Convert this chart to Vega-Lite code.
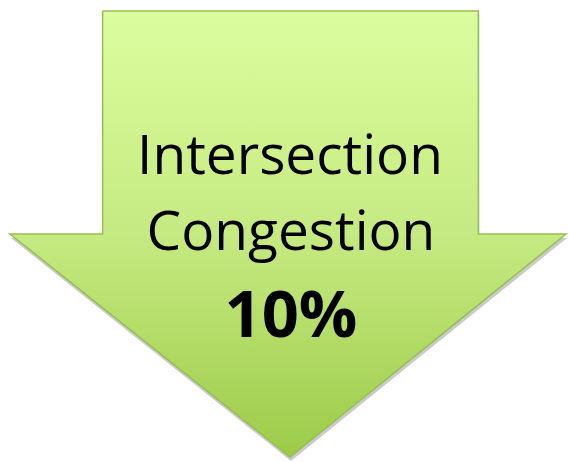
{
  "$schema": "https://vega.github.io/schema/vega-lite/v6.json",
  "width": 569,
  "height": 462,
  "padding": 0,
  "autosize": {"type": "fit", "contains": "padding"},
  "background": "white",
  "config": {"view": {"stroke": null}},
  "datasets": {
    "arrow": [
      {"i": 0, "x": 103, "y": 11},
      {"i": 1, "x": 480, "y": 11},
      {"i": 2, "x": 480, "y": 234},
      {"i": 3, "x": 568, "y": 234},
      {"i": 4, "x": 291, "y": 457},
      {"i": 5, "x": 10, "y": 234},
      {"i": 6, "x": 103, "y": 234},
      {"i": 7, "x": 103, "y": 11}
    ],
    "labels": [
      {"text": "Intersection", "x": 291, "y": 174},
      {"text": "Congestion", "x": 292, "y": 250}
    ],
    "value": [
      {"text": "10%", "x": 292, "y": 337}
    ]
  },
  "encoding": {
    "x": {"field": "x", "type": "quantitative", "scale": {"domain": [0, 569], "nice": false, "zero": false}, "axis": null},
    "y": {"field": "y", "type": "quantitative", "scale": {"domain": [0, 462], "nice": false, "zero": false, "reverse": true}, "axis": null}
  },
  "layer": [
    {
      "data": {"name": "arrow"},
      "mark": {"type": "line", "filled": true, "fill": "#8a8a8a", "strokeWidth": 0, "opacity": 0.45, "yOffset": 4, "xOffset": 1},
      "encoding": {
        "order": {"field": "i"}
      }
    },
    {
      "data": {"name": "arrow"},
      "mark": {
        "type": "line",
        "filled": true,
        "stroke": "#96bf52",
        "strokeWidth": 1.5,
        "fill": {
          "gradient": "linear",
          "x1": 0, "y1": 0, "x2": 0, "y2": 1,
          "stops": [
            {"offset": 0, "color": "#dcfd9e"},
            {"offset": 0.5, "color": "#c6ea82"},
            {"offset": 1, "color": "#9ccb48"}
          ]
        }
      },
      "encoding": {
        "order": {"field": "i"}
      }
    },
    {
      "data": {"name": "labels"},
      "mark": {"type": "text", "font": "Open Sans", "fontSize": 55, "color": "#000000", "align": "center", "baseline": "alphabetic"},
      "encoding": {
        "text": {"field": "text"}
      }
    },
    {
      "data": {"name": "value"},
      "mark": {"type": "text", "font": "Open Sans", "fontSize": 65, "fontWeight": "bold", "color": "#000000", "align": "center", "baseline": "alphabetic"},
      "encoding": {
        "text": {"field": "text"}
      }
    }
  ]
}
